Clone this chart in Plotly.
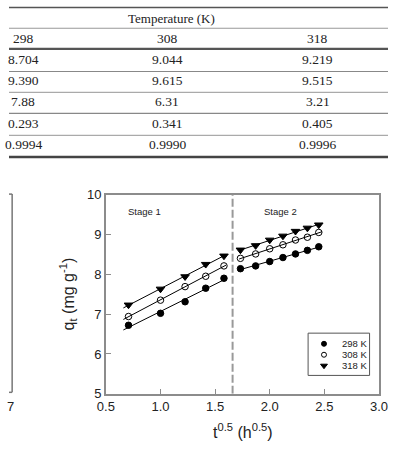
import numpy as np
import plotly.graph_objects as go

# ---------------- data ----------------
# table
table_header = "Temperature (K)"
temps = ["298", "308", "318"]
row_qe_cal = ["8.704", "9.044", "9.219"]
row_qe_exp = ["9.390", "9.615", "9.515"]
row_k = ["7.88", "6.31", "3.21"]
row_c = ["0.293", "0.341", "0.405"]
row_r2 = ["0.9994", "0.9990", "0.9996"]

# intraparticle diffusion plot
t_stage1 = [0.707, 1.000, 1.225, 1.414, 1.581]
t_stage2 = [1.732, 1.871, 2.000, 2.121, 2.236, 2.345, 2.449]
q298_s1 = [6.72, 7.02, 7.31, 7.65, 7.90]
q308_s1 = [6.94, 7.35, 7.69, 7.95, 8.21]
q318_s1 = [7.23, 7.63, 7.94, 8.25, 8.46]
q298_s2 = [8.14, 8.21, 8.32, 8.42, 8.51, 8.60, 8.69]
q308_s2 = [8.40, 8.51, 8.64, 8.74, 8.86, 8.93, 9.05]
q318_s2 = [8.61, 8.72, 8.86, 8.96, 9.08, 9.16, 9.24]
series_names = ["298 K", "308 K", "318 K"]
stage_split = 1.66
x_ticks = [0.5, 1.0, 1.5, 2.0, 2.5, 3.0]
y_ticks = [5, 6, 7, 8, 9, 10]

# ---------------- layout helpers ----------------
W, H = 397, 454
def px(x):
    return x / W
def py(y):
    return 1 - y / H

AX = "#8c8c8c"
TXT = "#222222"
FONT = "Arial, Liberation Sans, sans-serif"
SERIF = "Liberation Serif, Times New Roman, serif"

def note(x, y, text, font, xanchor="center", yanchor="middle", **kw):
    fig.add_annotation(x=px(x), y=py(y), xref="paper", yref="paper", text=text,
                       showarrow=False, xanchor=xanchor, yanchor=yanchor, font=font, **kw)

styles = [
    dict(symbol="circle", color="black", size=6.5, line=dict(color="black", width=1)),
    dict(symbol="circle-open", color="black", size=6.5, line=dict(color="black", width=1)),
    dict(symbol="triangle-down", color="black", size=7.5, line=dict(color="black", width=1)),
]

fig = go.Figure()

s1 = [q298_s1, q308_s1, q318_s1]
s2 = [q298_s2, q308_s2, q318_s2]
fit1_x = np.array([0.66, 1.60])
fit2_x = np.array([1.72, 2.48])
for i in range(3):
    # linear fit lines for each stage
    for tx, qy, fx in [(t_stage1, s1[i], fit1_x), (t_stage2, s2[i], fit2_x)]:
        k, c = np.polyfit(tx, qy, 1)
        fig.add_trace(go.Scatter(x=fx, y=k * fx + c, mode="lines",
                                 line=dict(color="black", width=1),
                                 showlegend=False, hoverinfo="skip"))
    fig.add_trace(go.Scatter(x=t_stage1 + t_stage2, y=s1[i] + s2[i], mode="markers",
                             marker=styles[i], name=series_names[i], showlegend=False))

# compact legend (markers + labels) inside a box
leg_x = 2.497
leg_y = [6.255, 5.98, 5.705]
for i in range(3):
    st = dict(styles[i])
    st["size"] = st["size"] - 1.5
    fig.add_trace(go.Scatter(x=[leg_x], y=[leg_y[i]], mode="markers", marker=st,
                             showlegend=False, hoverinfo="skip"))
    note(346.5, 348.3 + 11.2 * i, series_names[i], dict(family=FONT, size=9.5, color=TXT),
         xanchor="left")

shapes = []
shapes.append(dict(type="rect", xref="paper", yref="paper",
                   x0=px(313.3), x1=px(377.7), y0=py(381), y1=py(337.3),
                   line=dict(color="#555555", width=1)))
shapes.append(dict(type="line", xref="x", yref="y", x0=stage_split, x1=stage_split, y0=5, y1=10,
                   line=dict(color="#999999", width=2, dash="8px,3px")))

# table rules
table_lines = [(0.5, "#555555", 1.5), (22, "#999999", 1.2), (43.3, "#555555", 2.2),
               (66.7, "#888888", 1.2), (88.3, "#aaaaaa", 1.2), (110, "#888888", 1.2),
               (132.7, "#aaaaaa", 1.2), (155, "#444444", 2.5)]
for yy, col, w in table_lines:
    shapes.append(dict(type="line", xref="paper", yref="paper", x0=0, x1=1,
                       y0=py(yy), y1=py(yy), line=dict(color=col, width=w)))

# clipped frame of the neighbouring panel on the left
for (x0, y0, x1, y1) in [(3.3, 193.5, 3.3, 398.5), (0, 193.5, 3.3, 193.5), (0, 398.5, 3.3, 398.5)]:
    shapes.append(dict(type="line", xref="paper", yref="paper", x0=px(x0), x1=px(x1),
                       y0=py(y0), y1=py(y1), line=dict(color="#777777", width=1.5)))

# table text
col_x = [15, 166, 323.5]
row_y = [54.5, 76.5, 98, 120, 142.5]
tfont = dict(family=SERIF, size=13.5, color=TXT)
note(170, 11.5, table_header, dict(family=SERIF, size=13, color=TXT))
for j, t in enumerate(temps):
    note(col_x[j], 32.5, t, tfont)
for r, row in enumerate([row_qe_cal, row_qe_exp, row_k, row_c, row_r2]):
    for j, v in enumerate(row):
        note(col_x[j], row_y[r], v, tfont)

# stage labels
note(142, 211, "Stage 1", dict(family=FONT, size=9.5, color=TXT))
note(284, 211, "Stage 2", dict(family=FONT, size=9.5, color=TXT))

# axis titles
note(245, 439, "t<sup>0.5</sup> (h<sup>0.5</sup>)", dict(family=FONT, size=16, color=TXT))
note(62, 297, "q<sub>t</sub> (mg g<sup>-1</sup>)", dict(family=FONT, size=16, color=TXT),
     textangle=-90)

# clipped tick label of the left panel
note(7.5, 413, "7", dict(family=FONT, size=13, color=TXT), xanchor="right")

fig.update_layout(
    width=W, height=H, margin=dict(l=0, r=0, t=0, b=0),
    paper_bgcolor="white", plot_bgcolor="white",
    shapes=shapes, showlegend=False,
    xaxis=dict(domain=[px(101.5), px(387.5)], range=[0.5, 3.0], tickvals=x_ticks,
               ticktext=[f"{v:.1f}" for v in x_ticks],
               showgrid=False, zeroline=False, showline=True, mirror=True,
               linecolor=AX, linewidth=1.5, ticks="inside", ticklen=5, tickcolor=AX,
               tickwidth=1, tickfont=dict(family=FONT, size=13, color=TXT)),
    yaxis=dict(domain=[py(400), py(194)], range=[5, 10], tickvals=y_ticks,
               showgrid=False, zeroline=False, showline=True, mirror=True,
               linecolor=AX, linewidth=1.5, ticks="inside", ticklen=5, tickcolor=AX,
               tickwidth=1, tickfont=dict(family=FONT, size=13, color=TXT)),
)

fig.write_html("out.html")
